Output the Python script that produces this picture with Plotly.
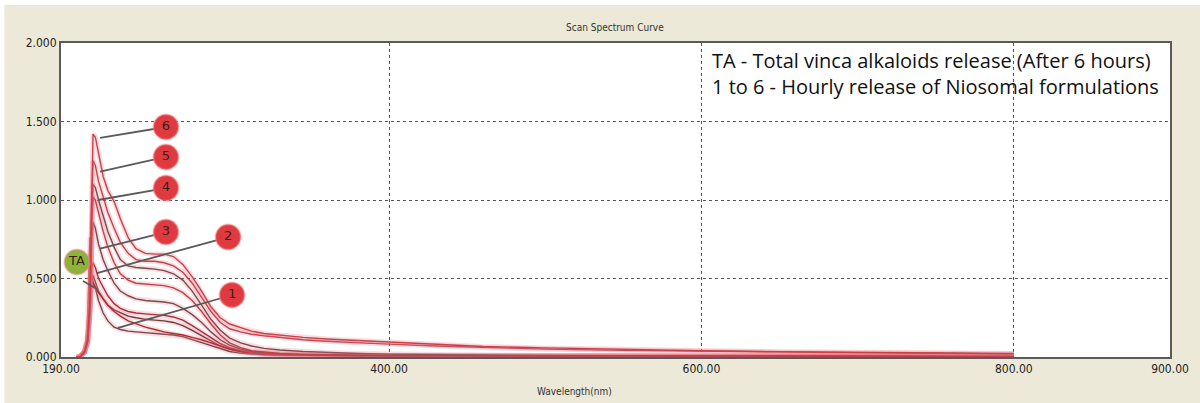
import plotly.graph_objects as go

# Shared wavelength grid (nm)
wavelength = [200, 202, 205, 207, 208.5, 209.5, 210.5, 212, 214, 217, 220, 224, 228, 233,
              238, 244, 250, 256, 262, 268, 274, 280, 286, 292, 298, 305, 312, 320, 330,
              345, 360, 380, 400, 430, 460, 500, 550, 600, 650, 700, 750, 800]

# Absorbance of the hourly release samples 1..6 and the total alkaloid (TA) sample
abs_6 = [0, 0, 0.03, 0.10, 0.35, 1.00, 1.42, 1.40, 1.30, 1.15, 1.06, 0.99, 0.88, 0.76,
         0.69, 0.66, 0.655, 0.655, 0.64, 0.59, 0.51, 0.42, 0.32, 0.25, 0.21, 0.185, 0.165,
         0.15, 0.14, 0.125, 0.115, 0.105, 0.095, 0.08, 0.067, 0.058, 0.048, 0.04, 0.034,
         0.03, 0.026, 0.022]
abs_5 = [0, 0, 0.03, 0.10, 0.35, 0.95, 1.25, 1.22, 1.12, 1.02, 0.92, 0.82, 0.73, 0.66,
         0.62, 0.61, 0.61, 0.60, 0.58, 0.54, 0.47, 0.38, 0.29, 0.22, 0.18, 0.16, 0.145,
         0.135, 0.125, 0.11, 0.10, 0.09, 0.082, 0.07, 0.06, 0.05, 0.042, 0.036, 0.031,
         0.027, 0.024, 0.02]
abs_4 = [0, 0, 0.03, 0.10, 0.30, 0.80, 1.02, 1.00, 0.92, 0.80, 0.70, 0.60, 0.53, 0.49,
         0.47, 0.465, 0.46, 0.455, 0.44, 0.41, 0.36, 0.29, 0.21, 0.14, 0.09, 0.06, 0.04,
         0.03, 0.022, 0.017, 0.014, 0.012, 0.010, 0.009, 0.008, 0.007, 0.006, 0.006,
         0.005, 0.005, 0.005, 0.005]
abs_3 = [0, 0, 0.03, 0.10, 0.30, 0.70, 0.86, 0.82, 0.72, 0.62, 0.55, 0.47, 0.42, 0.39,
         0.37, 0.36, 0.355, 0.35, 0.34, 0.31, 0.27, 0.22, 0.16, 0.11, 0.075, 0.05, 0.035,
         0.026, 0.02, 0.015, 0.012, 0.010, 0.009, 0.008, 0.007, 0.006, 0.006, 0.005,
         0.005, 0.005, 0.004, 0.004]
abs_2 = [0, 0, 0.03, 0.10, 0.30, 0.55, 0.60, 0.57, 0.50, 0.44, 0.39, 0.34, 0.31, 0.29,
         0.28, 0.275, 0.27, 0.265, 0.255, 0.235, 0.20, 0.16, 0.12, 0.085, 0.06, 0.04,
         0.03, 0.022, 0.017, 0.013, 0.011, 0.009, 0.008, 0.007, 0.006, 0.005, 0.005,
         0.004, 0.004, 0.004, 0.004, 0.004]
abs_1 = [0, 0, 0.03, 0.08, 0.25, 0.45, 0.48, 0.44, 0.36, 0.28, 0.23, 0.19, 0.175, 0.165,
         0.16, 0.155, 0.15, 0.145, 0.14, 0.13, 0.11, 0.09, 0.07, 0.05, 0.035, 0.025,
         0.018, 0.014, 0.011, 0.009, 0.008, 0.007, 0.006, 0.005, 0.005, 0.004, 0.004,
         0.004, 0.003, 0.003, 0.003, 0.003]
abs_ta = [0, 0, 0.04, 0.15, 0.76, 0.55, 0.47, 0.44, 0.41, 0.37, 0.33, 0.29, 0.26, 0.23,
          0.21, 0.19, 0.175, 0.16, 0.15, 0.14, 0.125, 0.11, 0.09, 0.07, 0.05, 0.035,
          0.025, 0.018, 0.014, 0.011, 0.009, 0.008, 0.007, 0.006, 0.005, 0.005, 0.004,
          0.004, 0.004, 0.003, 0.003, 0.003]
# Darker overlapping repeat scans
abs_rep_a = [0, 0, 0.03, 0.10, 0.30, 0.85, 1.10, 1.08, 1.00, 0.90, 0.80, 0.70, 0.62,
             0.58, 0.57, 0.565, 0.56, 0.55, 0.53, 0.49, 0.42, 0.33, 0.24, 0.17, 0.12,
             0.09, 0.07, 0.055, 0.045, 0.035, 0.028, 0.022, 0.018, 0.015, 0.012, 0.010,
             0.009, 0.008, 0.007, 0.006, 0.006, 0.005]
abs_rep_b = [0, 0, 0.03, 0.10, 0.30, 0.50, 0.52, 0.48, 0.42, 0.37, 0.33, 0.30, 0.28,
             0.26, 0.25, 0.24, 0.235, 0.23, 0.22, 0.20, 0.17, 0.135, 0.10, 0.07, 0.05,
             0.035, 0.025, 0.018, 0.014, 0.011, 0.009, 0.008, 0.007, 0.006, 0.005, 0.005,
             0.004, 0.004, 0.004, 0.003, 0.003, 0.003]

curve_values = [abs_rep_b, abs_1, abs_2, abs_ta, abs_3, abs_rep_a, abs_4, abs_5, abs_6]
curve_colors = ["#6e3a3e", "#6e4a4e", "#a8303a", "#b02a34", "#7a4a50", "#7a4a50",
                "#c0404a", "#c8404a", "#c8404a"]

# Numbered callouts: circle centre, pointer start and pointer end
label_text = ["6", "5", "4", "3", "2", "1", "TA"]
label_wl = [257.2, 257.2, 257.2, 257.2, 297.0, 299.5, 200.2]
label_abs = [1.465, 1.274, 1.076, 0.796, 0.764, 0.395, 0.605]
pointer_from_wl = [257.2, 257.2, 257.2, 257.2, 297.0, 299.5, 204.1]
pointer_from_abs = [1.465, 1.274, 1.076, 0.796, 0.764, 0.395, 0.484]
pointer_to_wl = [215.0, 215.0, 213.7, 215.0, 213.0, 226.5, 213.0]
pointer_to_abs = [1.395, 1.18, 1.00, 0.69, 0.535, 0.185, 0.433]
label_fill = ["#df3a40"] * 6 + ["#8cb43a"]

x_ticks = [190, 400, 600, 800, 900]
x_tick_text = ["190.00", "400.00", "600.00", "800.00", "900.00"]
y_ticks = [0, 0.5, 1.0, 1.5, 2.0]
y_tick_text = ["0.000", "0.500", "1.000", "1.500", "2.000"]

key_lines = ["TA - Total vinca alkaloids release (After 6 hours)",
             "1 to 6 - Hourly release of Niosomal formulations"]

fig = go.Figure()

# Each spectrum: a faint pink halo under a thin line
for vals, col in zip(curve_values, curve_colors):
    fig.add_trace(go.Scatter(x=wavelength, y=vals, mode="lines",
                             line=dict(color="rgba(235,120,130,0.25)", width=5),
                             hoverinfo="skip", showlegend=False))
    fig.add_trace(go.Scatter(x=wavelength, y=vals, mode="lines",
                             line=dict(color=col, width=1.4),
                             showlegend=False))

# Pointer lines from callouts to their spectra
for fw, fa, tw, ta in zip(pointer_from_wl, pointer_from_abs, pointer_to_wl, pointer_to_abs):
    fig.add_trace(go.Scatter(x=[fw, tw], y=[fa, ta], mode="lines",
                             line=dict(color="#5a5a5a", width=1.8),
                             hoverinfo="skip", showlegend=False))

# Callout circles
fig.add_trace(go.Scatter(x=label_wl, y=label_abs, mode="markers+text",
                         text=label_text, textposition="middle center",
                         textfont=dict(family="DejaVu Sans", size=13, color="#3a1a1a"),
                         marker=dict(size=25, color=label_fill,
                                     line=dict(color="rgba(240,130,130,0.45)", width=2)),
                         cliponaxis=False, showlegend=False))

axis_common = dict(showline=True, linecolor="#5a5a5a", linewidth=2, mirror=True,
                   showgrid=True, gridcolor="#555555", gridwidth=1, griddash="dot",
                   zeroline=False, ticks="",
                   tickfont=dict(family="DejaVu Sans Condensed, sans-serif",
                                 size=12, color="#222222"))

fig.update_xaxes(range=[190, 900], tickvals=x_ticks, ticktext=x_tick_text, **axis_common)
fig.update_yaxes(range=[0, 2], tickvals=y_ticks, ticktext=y_tick_text, **axis_common)

fig.update_layout(
    width=1200, height=403,
    margin=dict(l=61, r=30, t=43, b=46),
    paper_bgcolor="#ece9d8", plot_bgcolor="#ffffff",
    showlegend=False,
    shapes=[
        dict(type="rect", xref="paper", yref="paper", x0=-0.06, x1=1.03,
             y0=1.121, y1=1.14, fillcolor="#ffffff", line=dict(width=0), layer="below"),
        dict(type="rect", xref="paper", yref="paper", x0=-0.056, x1=-0.051,
             y0=-0.15, y1=1.14, fillcolor="#ffffff", line=dict(width=0), layer="below"),
    ],
    annotations=[
        dict(text="Scan Spectrum Curve", xref="paper", yref="paper", x=0.4995, y=1.048,
             xanchor="center", yanchor="middle", showarrow=False,
             font=dict(family="DejaVu Sans Condensed, sans-serif", size=10, color="#333333")),
        dict(text="Wavelength(nm)", xref="paper", yref="paper", x=0.463, y=-0.111,
             xanchor="center", yanchor="middle", showarrow=False,
             font=dict(family="DejaVu Sans Condensed, sans-serif", size=10, color="#333333")),
        dict(text="<br>".join(key_lines), xref="paper", yref="paper", x=0.585, y=0.904,
             xanchor="left", yanchor="middle", align="left", showarrow=False,
             font=dict(family="Open Sans, sans-serif", size=20, color="#111111")),
    ],
)

fig.write_html("out.html")
